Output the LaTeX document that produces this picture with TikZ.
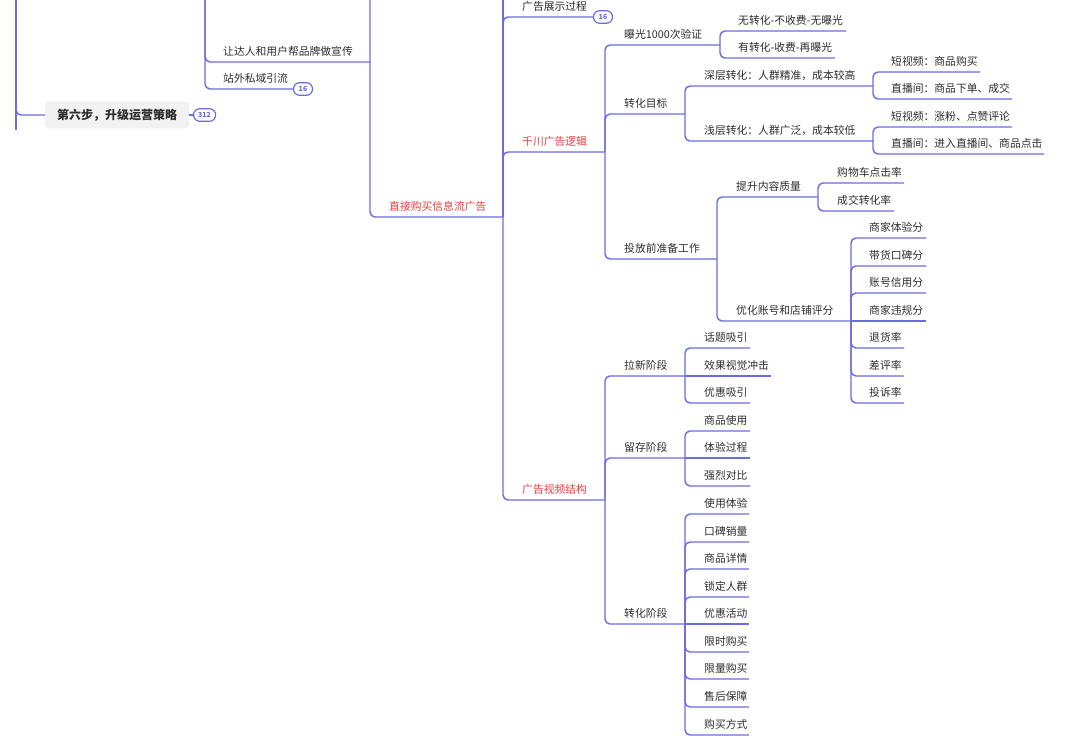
\documentclass[tikz,border=0pt]{standalone}
\usepackage{fontspec}
\setmainfont{Noto Sans CJK SC}
\usepackage{tikz}
\definecolor{branch}{RGB}{108,108,226}
\definecolor{ink}{RGB}{45,45,45}
\definecolor{hot}{RGB}{232,62,62}
\definecolor{boxgray}{RGB}{242,242,242}

\begin{document}
\begin{tikzpicture}[x=1pt,y=-1pt,
    br/.style={draw=branch,line width=1.45pt,rounded corners=5pt},
    topic/.style={anchor=south west,inner xsep=0pt,inner ysep=6pt,text depth=0pt,text=ink,font=\fontsize{10.8}{13}\selectfont},
    hottopic/.style={topic,text=hot},
    badge/.style={draw=branch,fill=white,line width=1.2pt,rounded corners=6pt,minimum height=12.5pt,inner sep=0pt,text=branch,font=\fontsize{7}{8}\selectfont\bfseries}]
\useasboundingbox (0,0) rectangle (1080,746);
\clip (0,0) rectangle (1080,746);

% spines coming from above the picture
\coordinate (s0top) at (16,-10);
\coordinate (s0bot) at (16,130);
\coordinate (s1top) at (205,-10);
\coordinate (s2top) at (370,-10);
\coordinate (s3top) at (503,-10);

% left part
\node[anchor=west,fill=boxgray,rounded corners=4pt,minimum height=27pt,inner xsep=12pt,text=ink,font=\fontsize{12}{14}\selectfont\bfseries] (step6) at (45,115) {第六步，升级运营策略};
\node[badge,minimum width=22pt,anchor=west] (b312) at (193,115) {312};
\node[topic] (rdr) at (223,62) {让达人和用户帮品牌做宣传};
\coordinate (rdr-e) at (370,62);
\node[topic] (zwsy) at (223,89) {站外私域引流};
\node[badge,minimum width=19pt] (b16a) at (303,89) {16};
\node[hottopic] (zjgm) at (389,217) {直接购买信息流广告};
\coordinate (zjgm-e) at (503,217);

% second level
\node[topic] (ggzs) at (522,17) {广告展示过程};
\node[badge,minimum width=19pt] (b16b) at (603,17) {16};
\node[hottopic] (qcgg) at (522,152) {千川广告逻辑};
\coordinate (qcgg-e) at (605,152);
\node[hottopic] (spjg) at (522,500) {广告视频结构};
\coordinate (spjg-e) at (605,500);

% qianchuan
\node[topic] (bg) at (624,45) {曝光1000次验证};
\coordinate (bg-e) at (720,45);
\node[topic] (wzh) at (738,31) {无转化-不收费-无曝光};
\coordinate (wzh-e) at (846,31);
\node[topic] (yzh) at (738,58) {有转化-收费-再曝光};
\coordinate (yzh-e) at (835,58);
\node[topic] (zhmb) at (624,114) {转化目标};
\coordinate (zhmb-e) at (685,114);
\node[topic] (sczh) at (704,86) {深层转化：人群精准，成本较高};
\coordinate (sczh-e) at (873,86);
\node[topic] (sc1) at (891,72) {短视频：商品购买};
\coordinate (sc1-e) at (980,72);
\node[topic] (sc2) at (891,99) {直播间：商品下单、成交};
\coordinate (sc2-e) at (1012,99);
\node[topic] (qczh) at (704,141) {浅层转化：人群广泛，成本较低};
\coordinate (qczh-e) at (873,141);
\node[topic] (qc1) at (891,127) {短视频：涨粉、点赞评论};
\coordinate (qc1-e) at (1012,127);
\node[topic] (qc2) at (891,154) {直播间：进入直播间、商品点击};
\coordinate (qc2-e) at (1044,154);
\node[topic] (tfq) at (624,259) {投放前准备工作};
\coordinate (tfq-e) at (717,259);
\node[topic] (tsnr) at (736,197) {提升内容质量};
\coordinate (tsnr-e) at (818,197);
\node[topic] (gwc) at (837,183) {购物车点击率};
\coordinate (gwc-e) at (904,183);
\node[topic] (cjzh) at (837,211) {成交转化率};
\coordinate (cjzh-e) at (894,211);
\node[topic] (yhzh) at (736,321) {优化账号和店铺评分};
\coordinate (yhzh-e) at (851,321);
\node[topic] (tyf) at (869,238) {商家体验分};
\coordinate (tyf-e) at (926,238);
\node[topic] (kbf) at (869,266) {带货口碑分};
\coordinate (kbf-e) at (926,266);
\node[topic] (xyf) at (869,293) {账号信用分};
\coordinate (xyf-e) at (926,293);
\node[topic] (wgf) at (869,321) {商家违规分};
\coordinate (wgf-e) at (926,321);
\node[topic] (thl) at (869,348) {退货率};
\coordinate (thl-e) at (904,348);
\node[topic] (cpl) at (869,376) {差评率};
\coordinate (cpl-e) at (904,376);
\node[topic] (tsl) at (869,403) {投诉率};
\coordinate (tsl-e) at (904,403);

% video structure
\node[topic] (lx) at (624,376) {拉新阶段};
\coordinate (lx-e) at (685,376);
\node[topic] (htxy) at (704,348) {话题吸引};
\coordinate (htxy-e) at (750,348);
\node[topic] (xgsj) at (704,376) {效果视觉冲击};
\coordinate (xgsj-e) at (771,376);
\node[topic] (yhxy) at (704,403) {优惠吸引};
\coordinate (yhxy-e) at (750,403);
\node[topic] (lc) at (624,458) {留存阶段};
\coordinate (lc-e) at (685,458);
\node[topic] (spsy) at (704,431) {商品使用};
\coordinate (spsy-e) at (750,431);
\node[topic] (tygc) at (704,458) {体验过程};
\coordinate (tygc-e) at (750,458);
\node[topic] (qldb) at (704,486) {强烈对比};
\coordinate (qldb-e) at (750,486);
\node[topic] (zhjd) at (624,624) {转化阶段};
\coordinate (zhjd-e) at (685,624);
\node[topic] (sy) at (704,514) {使用体验};
\coordinate (sy-e) at (749,514);
\node[topic] (kb) at (704,542) {口碑销量};
\coordinate (kb-e) at (749,542);
\node[topic] (xq) at (704,569) {商品详情};
\coordinate (xq-e) at (749,569);
\node[topic] (sd) at (704,597) {锁定人群};
\coordinate (sd-e) at (749,597);
\node[topic] (hd) at (704,624) {优惠活动};
\coordinate (hd-e) at (749,624);
\node[topic] (xs) at (704,652) {限时购买};
\coordinate (xs-e) at (749,652);
\node[topic] (xl) at (704,679) {限量购买};
\coordinate (xl-e) at (749,679);
\node[topic] (sh) at (704,707) {售后保障};
\coordinate (sh-e) at (749,707);
\node[topic] (fs) at (704,735) {购买方式};
\coordinate (fs-e) at (749,735);

% branches
\draw[br] (s0top) -- (s0bot);
\draw[br] (s0top) |- (step6.west);
\draw[br] (step6.east) -- (b312.west);
\draw[br] (s1top) |- (rdr-e);
\draw[br] (s1top) |- (b16a.west);
\draw[br] (s2top) |- (zjgm-e);
\draw[br] (zjgm-e) -- (s3top);
\draw[br] (zjgm-e) |- (b16b.west);
\draw[br] (zjgm-e) |- (qcgg-e);
\draw[br] (zjgm-e) |- (spjg-e);
\draw[br] (qcgg-e) |- (bg-e);
\draw[br] (qcgg-e) |- (zhmb-e);
\draw[br] (qcgg-e) |- (tfq-e);
\draw[br] (bg-e) |- (wzh-e);
\draw[br] (bg-e) |- (yzh-e);
\draw[br] (zhmb-e) |- (sczh-e);
\draw[br] (zhmb-e) |- (qczh-e);
\draw[br] (sczh-e) |- (sc1-e);
\draw[br] (sczh-e) |- (sc2-e);
\draw[br] (qczh-e) |- (qc1-e);
\draw[br] (qczh-e) |- (qc2-e);
\draw[br] (tfq-e) |- (tsnr-e);
\draw[br] (tfq-e) |- (yhzh-e);
\draw[br] (tsnr-e) |- (gwc-e);
\draw[br] (tsnr-e) |- (cjzh-e);
\draw[br] (yhzh-e) |- (tyf-e);
\draw[br] (yhzh-e) |- (kbf-e);
\draw[br] (yhzh-e) |- (xyf-e);
\draw[br] (yhzh-e) -- (wgf-e);
\draw[br] (yhzh-e) |- (thl-e);
\draw[br] (yhzh-e) |- (cpl-e);
\draw[br] (yhzh-e) |- (tsl-e);
\draw[br] (spjg-e) |- (lx-e);
\draw[br] (spjg-e) |- (lc-e);
\draw[br] (spjg-e) |- (zhjd-e);
\draw[br] (lx-e) |- (htxy-e);
\draw[br] (lx-e) -- (xgsj-e);
\draw[br] (lx-e) |- (yhxy-e);
\draw[br] (lc-e) |- (spsy-e);
\draw[br] (lc-e) -- (tygc-e);
\draw[br] (lc-e) |- (qldb-e);
\draw[br] (zhjd-e) |- (sy-e);
\draw[br] (zhjd-e) |- (kb-e);
\draw[br] (zhjd-e) |- (xq-e);
\draw[br] (zhjd-e) |- (sd-e);
\draw[br] (zhjd-e) -- (hd-e);
\draw[br] (zhjd-e) |- (xs-e);
\draw[br] (zhjd-e) |- (xl-e);
\draw[br] (zhjd-e) |- (sh-e);
\draw[br] (zhjd-e) |- (fs-e);
\end{tikzpicture}
\end{document}
